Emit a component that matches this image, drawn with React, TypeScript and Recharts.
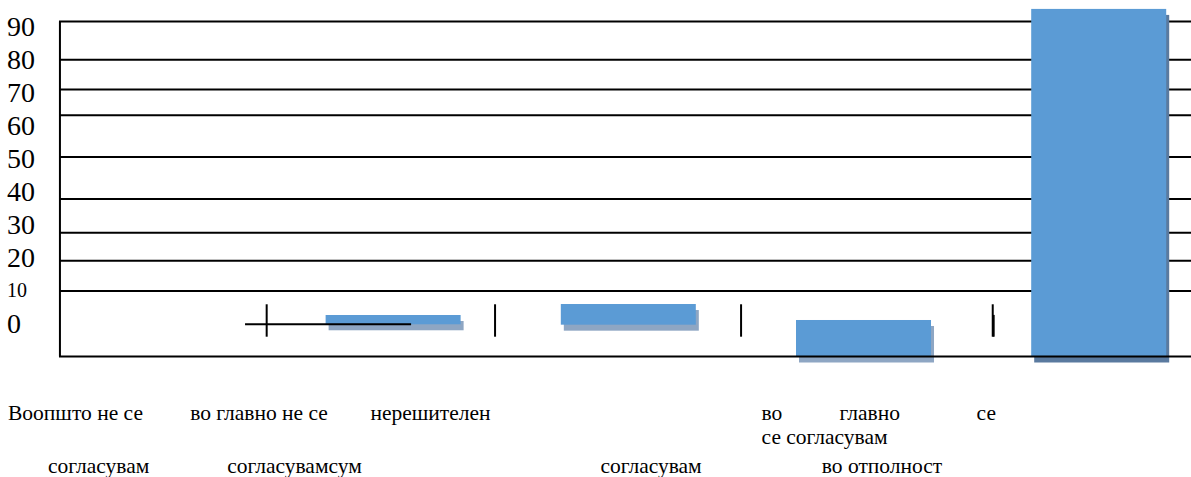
import React from "react";
import { Bar, BarChart, CartesianGrid, ReferenceLine, XAxis, YAxis } from "recharts";

const categories = [
  "Воопшто не се согласувам",
  "во главно не се согласувам",
  "нерешителен сум",
  "во главно се согласувам",
  "се согласувам во отполност",
];
// floating bars, [bottom, top] in axis units
const barBottom = [null, -0.24, -0.36, -10, -10];
const barTop = [null, 2.57, 5.9, 1.06, 95.3];

const yTicks = [0, 10, 20, 30, 40, 50, 60, 70, 80, 90];
const gridValues = [91.5, 79.9, 70.9, 63.1, 50.4, 37.7, 27.5, 19.0, 9.85];
const xDomain = [-0.421, 4.392];
const frameLeft = -0.417;

// stray marks, x in category-index units
const whiskerX = [0.462, 1.433, 2.479, 3.549];
const whiskerLow = -4.0;
const whiskerHigh = 5.82;
const crossFrom = 0.37;
const crossTo = 1.076;
const crossY = -0.24;

const data = categories.map((name, i) => ({
  idx: i,
  name,
  range: barBottom[i] == null ? null : [barBottom[i], barTop[i]],
}));

const FONT = '"Liberation Serif", "DejaVu Serif", serif';
const BLUE = "#5B9BD5";
const shadowFill = ["#8EA6C3", "#8EA6C3", "#8EA6C3", "#5A7A9F", "#8EA6C3"];

const ShadowBar = (props: any) => {
  const { x, y, width, height, index } = props;
  if (x == null || !height) return null;
  const top = Math.min(y, y + height);
  const h = Math.abs(height);
  return (
    <g>
      <rect x={x + 3} y={top + 6} width={width} height={h} fill={shadowFill[index]} />
      <rect x={x} y={top} width={width} height={h} fill={BLUE} />
    </g>
  );
};

const YTick = (props: any) => {
  const { y, payload } = props;
  const small = payload.value === 10;
  const fs = small ? 20 : 28;
  return (
    <text x={7} y={y + fs * 0.34} fontSize={fs} fontFamily={FONT} fill="#000" textAnchor="start">
      {payload.value}
    </text>
  );
};

// text fragments per category: dx from tick centre, row index
const labelLayout = [
  [
    { t: "Воопшто не се", dx: -150, row: 0 },
    { t: "согласувам", dx: -110, row: 2 },
  ],
  [
    { t: "во главно не се", dx: -203, row: 0 },
    { t: "согласувамсум", dx: -166, row: 2 },
  ],
  [
    { t: "нерешителен", dx: -258, row: 0 },
    { t: "согласувам", dx: -28, row: 2 },
  ],
  [
    { t: "во", dx: -102, row: 0 },
    { t: "главно", dx: -24, row: 0 },
    { t: "се", dx: 113, row: 0 },
    { t: "се согласувам", dx: -102, row: 1 },
  ],
  [{ t: "во отполност", dx: -277, row: 2 }],
];
const rowOffset = [56.5, 80.5, 109.5];

const XTick = (props: any) => {
  const { x, y, payload } = props;
  const parts = labelLayout[Math.round(payload.value)] || [];
  return (
    <g>
      {parts.map((p, k) => (
        <text
          key={k}
          x={x + p.dx}
          y={y + rowOffset[p.row]}
          dominantBaseline="central"
          fontSize={21.5}
          fontFamily={FONT}
          fill="#000"
          textAnchor="start"
        >
          {p.t}
        </text>
      ))}
    </g>
  );
};

const black = { stroke: "#000", strokeWidth: 2 };

export default function App() {
  return (
    <div
      style={{
        position: "absolute",
        left: 0,
        top: 0,
        width: 1191,
        height: 477,
        overflow: "hidden",
        background: "#fff",
      }}
    >
      <BarChart
        width={1191}
        height={477}
        data={data}
        margin={{ top: 6.6, right: 0, bottom: 0, left: 0 }}
        barSize={135}
      >
        <CartesianGrid vertical={false} horizontalValues={gridValues} {...black} />
        <XAxis
          dataKey="idx"
          type="number"
          domain={xDomain}
          allowDataOverflow
          ticks={[0, 1, 2, 3, 4]}
          interval={0}
          height={120.5}
          tickLine={false}
          tickSize={0}
          tickMargin={0}
          axisLine={black}
          tick={<XTick />}
        />
        <YAxis
          width={59}
          domain={[-10, 96]}
          ticks={yTicks}
          interval={0}
          axisLine={false}
          tickLine={false}
          tick={<YTick />}
        />
        <Bar dataKey="range" isAnimationActive={false} shape={<ShadowBar />} />
        <ReferenceLine
          ifOverflow="visible"
          segment={[
            { x: frameLeft, y: -10 },
            { x: frameLeft, y: 91.5 },
          ]}
          {...black}
        />
        {whiskerX.map((wx, i) => (
          <ReferenceLine
            key={i}
            ifOverflow="visible"
            segment={[
              { x: wx, y: whiskerLow },
              { x: wx, y: whiskerHigh },
            ]}
            {...black}
          />
        ))}
        <ReferenceLine
          ifOverflow="visible"
          segment={[
            { x: whiskerX[3] + 0.004, y: whiskerLow },
            { x: whiskerX[3] + 0.004, y: 2.6 },
          ]}
          {...black}
        />
        <ReferenceLine
          ifOverflow="visible"
          segment={[
            { x: crossFrom, y: crossY },
            { x: crossTo, y: crossY },
          ]}
          {...black}
        />
      </BarChart>
    </div>
  );
}
